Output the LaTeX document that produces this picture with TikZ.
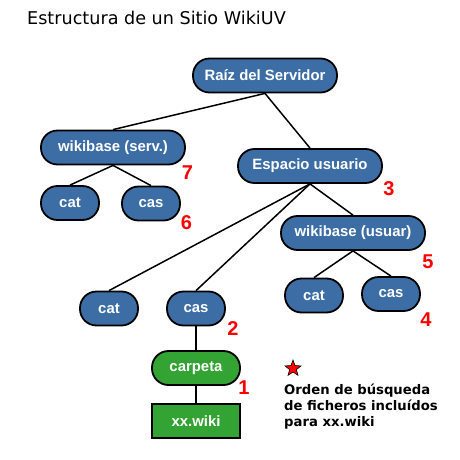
\documentclass[tikz,border=0pt]{standalone}
\usepackage{fontspec}
\setmainfont{DejaVu Sans}
\newfontfamily\nodefont{Liberation Sans}
\usetikzlibrary{shapes.geometric}
\definecolor{nblue}{RGB}{60,110,165}
\definecolor{ngreen}{RGB}{51,163,51}
\begin{document}
\begin{tikzpicture}[x=1pt,y=-1pt,
  base/.style={draw=black, line width=1.8pt, inner sep=0pt, minimum height=34pt,
    text=white, font=\nodefont\bfseries\fontsize{14.9}{16}\selectfont},
  pill/.style={base, fill=nblue, rounded corners=16.5pt},
  wide/.style={pill, minimum width=144pt},
  small/.style={pill, minimum width=58pt},
  gpill/.style={base, fill=ngreen, rounded corners=16.5pt, minimum width=88pt},
  gbox/.style={base, fill=ngreen, minimum width=88pt},
  conn/.style={draw=black, line width=1.5pt},
  num/.style={text=red, font=\nodefont\bfseries\fontsize{20}{22}\selectfont, inner sep=0pt}]
\useasboundingbox (0,0) rectangle (459,460);
\fill[white] (0,0) rectangle (459,460);
\node[anchor=base west, inner sep=0pt, font=\fontsize{17.6}{20}\selectfont] (title) at (27,25) {Estructura de un Sitio WikiUV};

\node[wide] (root) at (265,75.5) {Raíz del Servidor};
\node[wide] (ws) at (113,147.5) {wikibase (serv.)};
\node[wide] (eu) at (310,166) {Espacio usuario};
\node[small] (c1) at (70,203) {cat};
\node[small] (s1) at (151,203.5) {cas};
\node[wide] (wu) at (353,233) {wikibase (usuar)};
\node[small] (c2) at (109,308.5) {cat};
\node[small] (s2) at (196,308.5) {cas};
\node[small] (c3) at (314,295.5) {cat};
\node[small] (s3) at (391,294) {cas};
\node[gpill] (carp) at (196,368) {carpeta};
\node[gbox] (xx) at (196,421) {xx.wiki};

\draw[conn] (root.south) -- (ws.north);
\draw[conn] (root.south) -- (eu.north);
\draw[conn] (ws.south) -- (c1.north);
\draw[conn] (ws.south) -- (s1.north);
\draw[conn] (eu.south) -- (c2.north);
\draw[conn] (eu.south) -- (s2.north);
\draw[conn] (eu.south) -- (wu.north);
\draw[conn] (wu.south) -- (c3.north);
\draw[conn] (wu.south) -- (s3.north);
\draw[conn] (s2.south) -- (carp.north);
\draw[conn] (carp.south) -- (xx.north);

\node[num] (n7) at (187.5,173) {7};
\node[num] (n6) at (186.5,222.5) {6};
\node[num] (n3) at (389,189) {3};
\node[num] (n5) at (428,262) {5};
\node[num] (n4) at (426,320) {4};
\node[num] (n2) at (233,329) {2};
\node[num] (n1) at (244,388) {1};

\node[star, star points=5, star point ratio=2.4, fill=red, draw=black, line width=0.6pt,
  minimum size=17pt, inner sep=0pt] (st) at (293,368.5) {};
\node[anchor=base west, inner sep=0pt, align=left,
  font=\bfseries\fontsize{13.2}{16.2}\selectfont] (leg) at (284,426.9)
  {Orden de búsqueda\\de ficheros incluídos\\para xx.wiki};
\end{tikzpicture}
\end{document}
